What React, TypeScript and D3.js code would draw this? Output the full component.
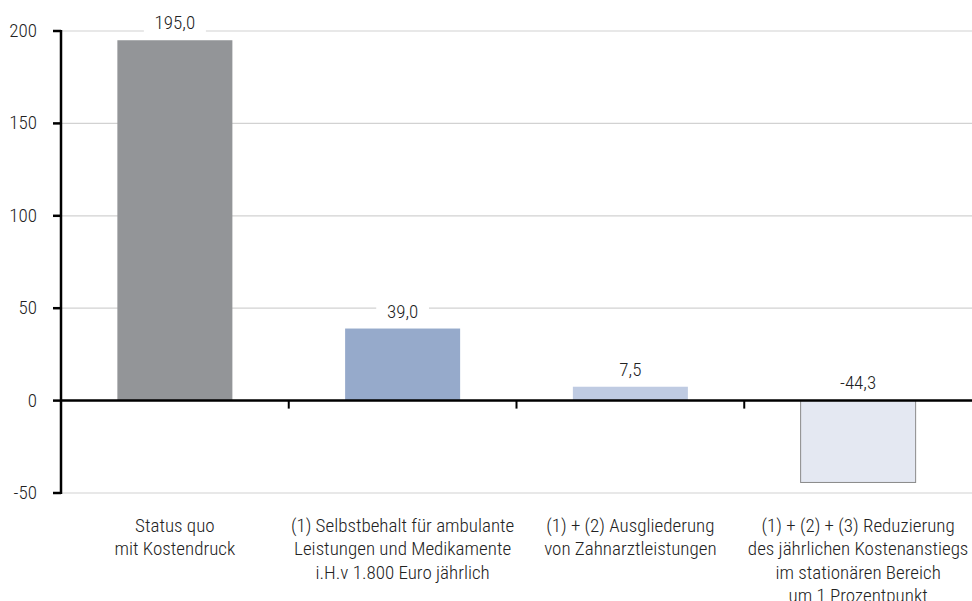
import React from "react";
import * as d3 from "d3";

const categories: string[][] = [
  ["Status quo", "mit Kostendruck"],
  ["(1) Selbstbehalt für ambulante", "Leistungen und Medikamente", "i.H.v 1.800 Euro jährlich"],
  ["(1) + (2) Ausgliederung", "von Zahnarztleistungen"],
  ["(1) + (2) + (3) Reduzierung", "des jährlichen Kostenanstiegs", "im stationären Bereich", "um 1 Prozentpunkt"],
];
const values: number[] = [195.0, 39.0, 7.5, -44.3];
const valueLabels: string[] = ["195,0", "39,0", "7,5", "-44,3"];
const barColors: string[] = ["#939598", "#96aacb", "#bfcbe2", "#e4e8f2"];
const yTicks: number[] = [-50, 0, 50, 100, 150, 200];

const W = 972;
const H = 601;
const FONT = "'Roboto Condensed', 'Liberation Sans Narrow', Roboto, sans-serif";
const FS = 19;

export default function App() {
  const left = 61;
  const right = 972;
  const y = d3.scaleLinear().domain([-50, 200]).range([493, 31]);
  const x = d3
    .scaleBand<number>()
    .domain(d3.range(values.length))
    .range([left, right])
    .paddingInner(0.495)
    .paddingOuter(0.2475);
  const step = (right - left) / values.length;
  const labelW = (s: string) => s.length * 9.2;

  return (
    <svg
      width={W}
      height={H}
      style={{ position: "absolute", left: 0, top: 0, display: "block" }}
      fontFamily={FONT}
      fontWeight={300}
    >
      <rect width={W} height={H} fill="#fff" />
      {yTicks.map((t) => (
        <line key={"g" + t} x1={left} x2={right} y1={y(t)} y2={y(t)} stroke="#d2d2d2" strokeWidth={1.2} />
      ))}
      {values.map((v, i) => (
        <rect
          key={"b" + i}
          x={x(i)!}
          width={x.bandwidth()}
          y={Math.min(y(v), y(0))}
          height={Math.abs(y(v) - y(0))}
          fill={barColors[i]}
          stroke={v < 0 ? "#8a8a8a" : "none"}
          strokeWidth={1}
        />
      ))}
      {values.map((v, i) => {
        const cx = x(i)! + x.bandwidth() / 2;
        const by = v >= 0 ? y(v) - 11 : y(0) - 12;
        const w = labelW(valueLabels[i]) + 16;
        return (
          <g key={"l" + i}>
            <rect x={cx - w / 2} y={by - 16} width={w} height={20} fill="#fff" />
            <text x={cx} y={by} textAnchor="middle" fontSize={FS} fill="#222">
              {valueLabels[i]}
            </text>
          </g>
        );
      })}
      <line x1={left} x2={right} y1={y(0)} y2={y(0)} stroke="#000" strokeWidth={2.5} />
      {d3.range(1, values.length).map((k) => (
        <line
          key={"ct" + k}
          x1={left + k * step}
          x2={left + k * step}
          y1={y(0)}
          y2={y(0) + 8}
          stroke="#000"
          strokeWidth={2}
        />
      ))}
      <line x1={left} x2={left} y1={y(200) - 1} y2={y(-50) + 1} stroke="#000" strokeWidth={2.5} />
      {yTicks.map((t) => (
        <g key={"t" + t}>
          <line x1={left - 8} x2={left} y1={y(t)} y2={y(t)} stroke="#000" strokeWidth={2.5} />
          <text x={37} y={y(t) + 6} textAnchor="end" fontSize={FS} fill="#222">
            {t}
          </text>
        </g>
      ))}
      {categories.map((lines, i) => {
        const cx = x(i)! + x.bandwidth() / 2;
        return (
          <text key={"c" + i} textAnchor="middle" fontSize={FS} fill="#222">
            {lines.map((ln, j) => (
              <tspan key={j} x={cx} y={532 + j * 23.3}>
                {ln}
              </tspan>
            ))}
          </text>
        );
      })}
    </svg>
  );
}
